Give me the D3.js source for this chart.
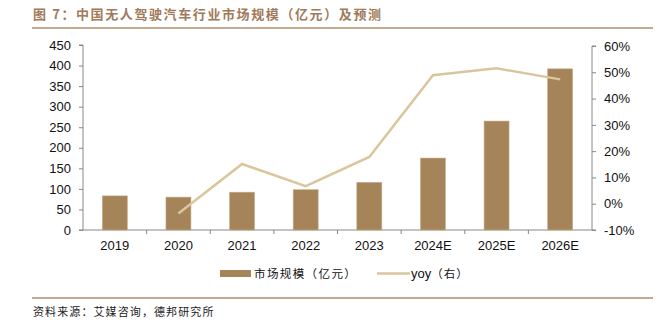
<!DOCTYPE html>
<html><head><meta charset="utf-8">
<script src="https://cdn.jsdelivr.net/npm/d3@7"></script>
<style>body{margin:0;background:#fff}</style>
</head><body>
<svg id="c" width="669" height="327"></svg>
<script>
const categories = ["2019","2020","2021","2022","2023","2024E","2025E","2026E"];
const marketSize = [83, 80, 92, 98, 116, 175, 265, 392];
const yoyCats = ["2020","2021","2022","2023","2024E","2025E","2026E"];
const yoy = [-3.7, 15.1, 6.7, 17.8, 48.9, 51.5, 47.3];
const leftTicks = [0,50,100,150,200,250,300,350,400,450];
const rightTicks = [-10,0,10,20,30,40,50,60];

const svg = d3.select("#c");
const font = "'Liberation Sans', Arial, sans-serif";
const cjk = "'Noto Sans CJK SC', sans-serif";
const barColor = "#a6845a", lineColor = "#d9c69c", brown = "#a07a5a";

// title
svg.append("text").attr("x",33).attr("y",19).attr("font-family",cjk).attr("font-weight","bold")
  .attr("font-size",13).attr("letter-spacing",1.6).attr("fill",brown).text("图 7：中国无人驾驶汽车行业市场规模（亿元）及预测");
svg.append("line").attr("x1",32).attr("x2",653).attr("y1",28).attr("y2",28).attr("stroke","#b08c6c").attr("stroke-width",1.5);
svg.append("line").attr("x1",32).attr("x2",653).attr("y1",298).attr("y2",298).attr("stroke","#b08c6c").attr("stroke-width",1.5);
svg.append("text").attr("x",33).attr("y",316).attr("font-family",cjk).attr("font-size",11).attr("letter-spacing",1.1).attr("fill","#222")
  .text("资料来源：艾媒咨询，德邦研究所");

const xc = d3.scalePoint().domain(categories).range([83,592]).padding(0.5);
const yL = d3.scaleLinear().domain([0,450]).range([230,45]);
const yR = d3.scaleLinear().domain([-10,60]).range([230,46]);

// left axis
const gL = svg.append("g").attr("transform","translate(83,0)")
  .call(d3.axisLeft(yL).tickValues(leftTicks).tickSize(4).tickPadding(8));
// right axis
const gR = svg.append("g").attr("transform","translate(592,0)")
  .call(d3.axisRight(yR).tickValues(rightTicks).tickSize(4).tickPadding(8).tickFormat(d=>d+"%"));
[gL,gR].forEach(g=>{
  g.select(".domain").attr("stroke","#888");
  g.selectAll(".tick line").attr("stroke","#888");
  g.selectAll("text").attr("font-family",font).attr("font-size",13).attr("fill","#111");
});
gR.select(".domain").attr("d","M4,46H0V230H4");
gL.select(".domain").attr("d","M-4,45H0V230H-4");

// bottom axis
const xAxisBand = d3.scaleBand().domain(categories).range([83,592]);
const gB = svg.append("g").attr("transform","translate(0,230)");
gB.append("line").attr("x1",83).attr("x2",592).attr("stroke","#888");
gB.selectAll("line.t").data(categories.slice(1)).join("line").attr("class","t")
  .attr("x1",d=>xAxisBand(d)).attr("x2",d=>xAxisBand(d)).attr("y1",0).attr("y2",4).attr("stroke","#888");
gB.selectAll("text").data(categories).join("text")
  .attr("x",d=>xc(d)).attr("y",20).attr("text-anchor","middle")
  .attr("font-family",font).attr("font-size",13).attr("fill","#111").text(d=>d);

// bars
svg.append("g").selectAll("rect").data(categories).join("rect")
  .attr("x",d=>xc(d)-12.5).attr("width",25)
  .attr("y",(d,i)=>yL(marketSize[i])).attr("height",(d,i)=>yL(0)-yL(marketSize[i]))
  .attr("fill",barColor).attr("stroke","#c9ae8a").attr("stroke-width",0.6);

// line
const line = d3.line().x((d,i)=>xc(yoyCats[i])).y(d=>yR(d));
svg.append("path").datum(yoy).attr("d",line).attr("fill","none")
  .attr("stroke",lineColor).attr("stroke-width",2.5);

// legend
svg.append("rect").attr("x",220).attr("y",270).attr("width",31).attr("height",7).attr("fill",barColor);
svg.append("text").attr("x",254).attr("y",278).attr("font-family",cjk).attr("font-size",11.5).attr("letter-spacing",1.4).attr("fill","#111").text("市场规模（亿元）");
svg.append("line").attr("x1",377).attr("x2",410).attr("y1",273.5).attr("y2",273.5).attr("stroke",lineColor).attr("stroke-width",2.5);
const lt = svg.append("text").attr("x",411).attr("y",278).attr("font-size",12).attr("fill","#111");
lt.append("tspan").attr("font-family",font).attr("font-size",13).text("yoy");
lt.append("tspan").attr("font-family",cjk).attr("font-size",11.5).attr("letter-spacing",1).text("（右）");
</script>
</body></html>
